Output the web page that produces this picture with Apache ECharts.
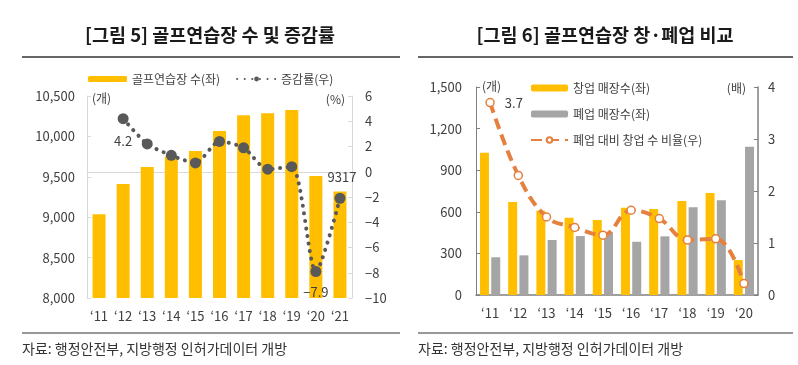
<!DOCTYPE html>
<html><head><meta charset="utf-8">
<script src="https://cdn.jsdelivr.net/npm/echarts@6/dist/echarts.min.js"></script>
<style>html,body{margin:0;padding:0;background:#fff}#c{width:798px;height:365px}</style>
</head><body><div id="c"></div>
<script>
// ---- Data: figure 5 ----
const years5 = ["\u201811","\u201812","\u201813","\u201814","\u201815","\u201816","\u201817","\u201818","\u201819","\u201820","\u201821"];
const ranges5 = [9036, 9410, 9620, 9750, 9820, 10067, 10261, 10286, 10327, 9510, 9317];
const growth5 = [null, 4.2, 2.2, 1.3, 0.7, 2.4, 1.9, 0.2, 0.4, -7.9, -2.1];
const leftTicks5 = {min: 8000, max: 10500, interval: 500};
const rightTicks5 = {min: -10, max: 6, interval: 2};
// ---- Data: figure 6 ----
const years6 = ["\u201811","\u201812","\u201813","\u201814","\u201815","\u201816","\u201817","\u201818","\u201819","\u201820"];
const opened6 = [1025, 670, 608, 557, 541, 629, 620, 678, 735, 252];
const closed6 = [272, 286, 397, 425, 452, 384, 423, 632, 683, 1069];
const ratio6 = [3.7, 2.3, 1.5, 1.3, 1.15, 1.63, 1.47, 1.06, 1.08, 0.22];
const leftTicks6 = {min: 0, max: 1500, interval: 300};
const rightTicks6 = {min: 0, max: 4, interval: 1};

const FONT = '"Noto Sans CJK KR", "Noto Sans", sans-serif';
const TXT = '#404040';
const YEL = '#FFBF00';
const GRY = '#A5A5A5';
const ORG = '#E5803E';
const DOT = '#595959';

const chart = echarts.init(document.getElementById('c'));
const axisLbl = {color: TXT, fontSize: 13, fontFamily: FONT};

chart.setOption({
  animation: false,
  textStyle: {fontFamily: FONT},
  grid: [
    {left: 87, right: 446, top: 96, bottom: 67},
    {left: 476, right: 40, top: 87, bottom: 70}
  ],
  legend: [
    {left: 88, top: 73, padding: 0, itemWidth: 39, itemHeight: 6, itemGap: 16,
     textStyle: {fontSize: 12, color: TXT, fontFamily: FONT},
     data: ['골프연습장 수(좌)', '증감률(우)']},
    {orient: 'vertical', left: 530, top: 81, padding: 0, itemWidth: 37, itemHeight: 7, itemGap: 12,
     textStyle: {fontSize: 12, color: TXT, fontFamily: FONT, lineHeight: 14},
     data: ['창업 매장수(좌)', '폐업 매장수(좌)', '폐업 대비 창업 수 비율(우)']}
  ],
  xAxis: [
    {type: 'category', gridIndex: 0, data: years5,
     axisLine: {lineStyle: {color: '#D9D9D9'}}, axisTick: {show: false},
     axisLabel: Object.assign({margin: 12}, axisLbl)},
    {type: 'category', gridIndex: 1, data: years6,
     axisLine: {lineStyle: {color: '#808080', width: 1.5}}, axisTick: {show: false},
     axisLabel: Object.assign({margin: 12}, axisLbl)}
  ],
  yAxis: [
    {type: 'value', gridIndex: 0, min: leftTicks5.min, max: leftTicks5.max, interval: leftTicks5.interval,
     axisLine: {show: true, lineStyle: {color: '#D9D9D9'}},
     axisTick: {show: true, inside: true, length: 4, lineStyle: {color: '#D9D9D9'}},
     splitLine: {show: false},
     axisLabel: Object.assign({margin: 12, formatter: v => v.toLocaleString('en-US')}, axisLbl)},
    {type: 'value', gridIndex: 0, position: 'right', min: rightTicks5.min, max: rightTicks5.max, interval: rightTicks5.interval,
     axisLine: {show: true, lineStyle: {color: '#D9D9D9'}},
     axisTick: {show: true, inside: true, length: 4, lineStyle: {color: '#D9D9D9'}},
     splitLine: {show: false},
     axisLabel: Object.assign({margin: 13, formatter: v => v < 0 ? '\u2212' + (-v) : String(v)}, axisLbl)},
    {type: 'value', gridIndex: 1, min: leftTicks6.min, max: leftTicks6.max, interval: leftTicks6.interval,
     axisLine: {show: true, lineStyle: {color: '#808080'}},
     axisTick: {show: true, inside: true, length: 4, lineStyle: {color: '#808080'}},
     splitLine: {show: false},
     axisLabel: Object.assign({margin: 14, formatter: v => v.toLocaleString('en-US')}, axisLbl)},
    {type: 'value', gridIndex: 1, position: 'right', min: rightTicks6.min, max: rightTicks6.max, interval: rightTicks6.interval,
     axisLine: {show: true, lineStyle: {color: '#808080', width: 1.5}},
     axisTick: {show: true, inside: true, length: 4, lineStyle: {color: '#808080'}},
     splitLine: {show: false},
     axisLabel: Object.assign({margin: 10}, axisLbl)}
  ],
  series: [
    {name: '골프연습장 수(좌)', type: 'bar', xAxisIndex: 0, yAxisIndex: 0, barWidth: 13,
     itemStyle: {color: YEL},
     data: ranges5.map((v, i) => i === ranges5.length - 1
       ? {value: v, label: {show: true, position: 'top', distance: 8, offset: [2, 0], color: TXT, fontSize: 13, formatter: String(v)}}
       : v)},
    {name: '증감률(우)', type: 'line', xAxisIndex: 0, yAxisIndex: 1, smooth: 0.25,
     symbol: 'circle', symbolSize: 11, connectNulls: false,
     itemStyle: {color: DOT},
     lineStyle: {color: DOT, width: 4, type: [0.1, 7.5], cap: 'round'},
     data: growth5.map((v, i) => (i === 1 || i === 9)
       ? {value: v, label: {show: true, position: 'bottom', distance: i === 1 ? 10 : 9, color: TXT, fontSize: 13,
          formatter: v < 0 ? '\u2212' + (-v) : String(v)}}
       : v),
     z: 5},
    {name: '창업 매장수(좌)', type: 'bar', xAxisIndex: 1, yAxisIndex: 2, barWidth: 9, barGap: '25%',
     itemStyle: {color: YEL}, data: opened6},
    {name: '폐업 매장수(좌)', type: 'bar', xAxisIndex: 1, yAxisIndex: 2, barWidth: 9, barGap: '25%',
     itemStyle: {color: GRY}, data: closed6},
    {name: '폐업 대비 창업 수 비율(우)', type: 'line', xAxisIndex: 1, yAxisIndex: 3, smooth: 0.4,
     symbol: 'circle', symbolSize: 8,
     itemStyle: {color: '#fff', borderColor: ORG, borderWidth: 1.5},
     lineStyle: {color: ORG, width: 4, type: [11, 6]},
     data: ratio6.map((v, i) => i === 0
       ? {value: v, label: {show: true, position: 'right', distance: 10, color: TXT, fontSize: 13, formatter: String(v)}}
       : v),
     z: 5}
  ],
  graphic: [
    {type: 'text', x: 210, y: 35, style: {text: '[그림 5] 골프연습장 수 및 증감률', font: 'bold 18.5px ' + FONT, fill: '#1a1a1a', align: 'center', verticalAlign: 'middle'}},
    {type: 'text', x: 605, y: 35, style: {text: '[그림 6] 골프연습장 창·폐업 비교', font: 'bold 18.5px ' + FONT, fill: '#1a1a1a', align: 'center', verticalAlign: 'middle'}},
    {type: 'line', shape: {x1: 22, y1: 57, x2: 400, y2: 57}, style: {stroke: '#333', lineWidth: 1.5}},
    {type: 'line', shape: {x1: 418, y1: 57, x2: 793, y2: 57}, style: {stroke: '#333', lineWidth: 1.5}},
    {type: 'line', shape: {x1: 22, y1: 333, x2: 400, y2: 333}, style: {stroke: '#333', lineWidth: 1.2}},
    {type: 'line', shape: {x1: 418, y1: 333, x2: 793, y2: 333}, style: {stroke: '#333', lineWidth: 1.2}},
    {type: 'text', x: 22, y: 349, style: {text: '자료: 행정안전부, 지방행정 인허가데이터 개방', font: '14px ' + FONT, fill: '#333', verticalAlign: 'middle'}},
    {type: 'text', x: 418, y: 349, style: {text: '자료: 행정안전부, 지방행정 인허가데이터 개방', font: '14px ' + FONT, fill: '#333', verticalAlign: 'middle'}},
    {type: 'text', x: 92, y: 98, style: {text: '(개)', font: '12px ' + FONT, fill: TXT, verticalAlign: 'middle'}},
    {type: 'text', x: 345, y: 99, style: {text: '(%)', font: '12px ' + FONT, fill: TXT, align: 'right', verticalAlign: 'middle'}},
    {type: 'text', x: 482, y: 86, style: {text: '(개)', font: '12px ' + FONT, fill: TXT, verticalAlign: 'middle'}},
    {type: 'text', x: 746, y: 88, style: {text: '(배)', font: '12px ' + FONT, fill: TXT, align: 'right', verticalAlign: 'middle'}}
  ]
});
</script></body></html>
